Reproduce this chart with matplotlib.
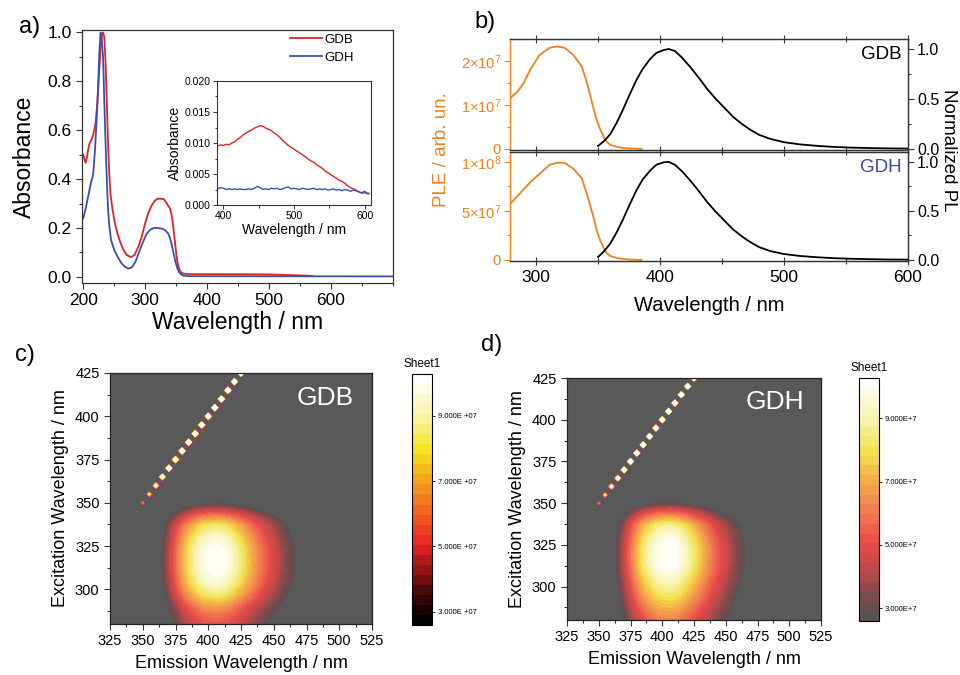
import numpy as np
import matplotlib
matplotlib.use('Agg')
import matplotlib.pyplot as plt
from matplotlib.colors import LinearSegmentedColormap, BoundaryNorm
from matplotlib.ticker import MultipleLocator, FixedLocator, FuncFormatter
import matplotlib.cm as cm

plt.rcParams['font.family'] = ['Liberation Sans', 'DejaVu Sans']
plt.rcParams['mathtext.fontset'] = 'custom'
plt.rcParams['mathtext.rm'] = 'Liberation Sans'
plt.rcParams['mathtext.it'] = 'Liberation Sans:italic'
plt.rcParams['mathtext.bf'] = 'Liberation Sans:bold'

# ---------------- absorption spectra (panel a) ----------------
abs_gdb_wl = [200, 202, 204, 206, 208, 210, 213, 216, 220, 223, 226, 228, 230, 232, 234,
              236, 238, 240, 242, 244, 247, 251, 255, 260, 265, 270, 277, 283, 290, 295,
              300, 305, 310, 315, 320, 325, 330, 335, 340, 343, 346, 349, 352, 355, 358,
              362, 370, 380, 400, 450, 500, 530, 570]
abs_gdb = [0.50, 0.48, 0.467, 0.49, 0.52, 0.545, 0.56, 0.58, 0.63, 0.72, 0.85, 0.93, 0.99,
           1.00, 0.98, 0.88, 0.72, 0.55, 0.42, 0.34, 0.28, 0.22, 0.18, 0.14, 0.11, 0.09,
           0.081, 0.09, 0.13, 0.17, 0.22, 0.26, 0.29, 0.31, 0.32, 0.32, 0.318, 0.30, 0.28,
           0.25, 0.19, 0.12, 0.06, 0.03, 0.018, 0.013, 0.012, 0.011, 0.011, 0.011, 0.010,
           0.008, 0.004]

abs_gdh_wl = [200, 204, 208, 212, 216, 219, 222, 224, 226, 228, 230, 232, 234, 236, 238,
              240, 242, 245, 250, 256, 262, 268, 273, 278, 284, 290, 296, 302, 308, 314,
              320, 326, 332, 337, 340, 343, 346, 349, 352, 355, 358, 362, 370, 700]
abs_gdh = [0.24, 0.28, 0.33, 0.38, 0.42, 0.52, 0.66, 0.78, 0.92, 1.00, 0.97, 0.90, 0.72,
           0.55, 0.40, 0.28, 0.21, 0.15, 0.11, 0.08, 0.055, 0.04, 0.034, 0.038, 0.06, 0.10,
           0.14, 0.175, 0.193, 0.20, 0.20, 0.198, 0.192, 0.178, 0.16, 0.13, 0.095, 0.06,
           0.035, 0.018, 0.01, 0.005, 0.003, 0.002]

# inset: weak visible-range absorption
inset_wl = [392, 396, 400, 404, 408, 412, 416, 420, 424, 428, 432, 436, 440, 444, 448, 452,
            456, 460, 464, 468, 472, 476, 480, 484, 488, 492, 496, 500, 504, 508, 512, 516,
            520, 524, 528, 532, 536, 540, 544, 548, 552, 556, 560, 564, 568, 572, 576, 580,
            584, 588, 592, 596, 600, 604, 606]
inset_gdb = [.0095, .0097, .0096, .0098, .0097, .0100, .0102, .0106, .0109, .0113, .0116,
             .0119, .0121, .0124, .0126, .0128, .0127, .0124, .0122, .0120, .0116, .0113,
             .0109, .0104, .0100, .0096, .0093, .0090, .0087, .0084, .0081, .0078, .0074,
             .0071, .0069, .0065, .0062, .0059, .0055, .0052, .0049, .0046, .0043, .0040,
             .0038, .0035, .0031, .0028, .0026, .0024, .0021, .0019, .0020, .0018, .0019]
inset_gdh = [.0026, .0028, .0027, .0025, .0026, .0025, .0026, .0025, .0026, .0025, .0025,
             .0026, .0025, .0027, .0030, .0028, .0025, .0026, .0025, .0027, .0026, .0027,
             .0025, .0026, .0028, .0029, .0026, .0027, .0026, .0025, .0027, .0026, .0025,
             .0026, .0027, .0025, .0026, .0025, .0026, .0024, .0025, .0026, .0024, .0025,
             .0023, .0025, .0024, .0022, .0024, .0023, .0021, .0020, .0022, .0019, .0018]

# ---------------- PLE / PL spectra (panel b) ----------------
ple_wl = [279, 285, 290, 296, 303, 311, 317, 323, 330, 337, 342, 346, 349, 352, 355, 357,
          360, 365, 370, 376, 385]
ple_gdb = [1.15e7, 1.30e7, 1.50e7, 1.84e7, 2.14e7, 2.30e7, 2.33e7, 2.30e7, 2.14e7, 1.87e7,
           1.41e7, 0.96e7, 0.65e7, 0.43e7, 0.25e7, 0.16e7, 0.09e7, 0.05e7, 0.02e7, 0.01e7, 0.0]
ple_gdh = [0.57e8, 0.65e8, 0.72e8, 0.80e8, 0.88e8, 0.97e8, 0.99e8, 0.99e8, 0.93e8, 0.83e8,
           0.63e8, 0.45e8, 0.30e8, 0.19e8, 0.11e8, 0.07e8, 0.04e8, 0.02e8, 0.01e8, 0.004e8, 0.0]

pl_wl = [350, 355, 360, 365, 370, 375, 381, 386, 392, 397, 403, 407, 412, 418, 425, 432,
         438, 445, 452, 459, 466, 473, 480, 489, 500, 513, 527, 540, 554, 570, 585, 600]
pl_gdb = [0.03, 0.08, 0.15, 0.26, 0.39, 0.53, 0.69, 0.80, 0.90, 0.96, 0.99, 1.00, 0.98,
          0.91, 0.81, 0.70, 0.60, 0.50, 0.41, 0.32, 0.25, 0.19, 0.14, 0.10, 0.067, 0.045,
          0.03, 0.02, 0.013, 0.008, 0.005, 0.003]
pl_gdh = [0.03, 0.09, 0.17, 0.28, 0.41, 0.55, 0.71, 0.82, 0.91, 0.97, 0.995, 1.00, 0.97,
          0.90, 0.80, 0.69, 0.59, 0.49, 0.40, 0.31, 0.24, 0.18, 0.13, 0.09, 0.06, 0.04,
          0.027, 0.018, 0.012, 0.007, 0.004, 0.003]

# ---------------- excitation-emission maps (panels c, d) ----------------
map_peak_gdb = 1.04e8
map_peak_gdh = 1.04e8
rayleigh_wl = [345, 350, 355, 360, 365, 370, 375, 380, 385, 390, 395, 400, 405, 410, 415, 420, 425]
rayleigh_gdb = [4.2e7, 6.0e7, 9.0e7, 1.3e8, 1.6e8, 1.9e8, 2.0e8, 2.0e8, 2.0e8, 2.0e8, 2.0e8,
                2.0e8, 2.0e8, 2.0e8, 2.0e8, 2.0e8, 2.0e8]
rayleigh_gdh = [4.0e7, 5.8e7, 8.8e7, 1.25e8, 1.55e8, 1.85e8, 2.0e8, 2.0e8, 2.0e8, 2.0e8, 2.0e8,
                2.0e8, 2.0e8, 2.0e8, 2.0e8, 2.0e8, 2.0e8]
cbar_ticks = [3e7, 5e7, 7e7, 9e7]

RED = '#DD2424'
BLUE = '#3A50B0'
ORANGE = '#F0821E'
FRAME = '#333333'

W, H = 960, 675
fig = plt.figure(figsize=(9.6, 6.75), dpi=100)


def box(l, t, r, b):
    return [l / W, 1 - b / H, (r - l) / W, (b - t) / H]


def style_spines(ax, color=FRAME, lw=0.9):
    for s in ax.spines.values():
        s.set_color(color)
        s.set_linewidth(lw)


# ======================= panel a =======================
ax = fig.add_axes(box(82, 30, 393, 283))
ax.plot(abs_gdb_wl, abs_gdb, color=RED, lw=1.3, label='GDB')
ax.plot(abs_gdh_wl, abs_gdh, color=BLUE, lw=1.3, label='GDH')
ax.set_xlim(198, 700)
ax.set_ylim(-0.025, 1.01)
ax.xaxis.set_major_locator(FixedLocator([200, 300, 400, 500, 600]))
ax.xaxis.set_minor_locator(MultipleLocator(50))
ax.yaxis.set_major_locator(MultipleLocator(0.2))
ax.yaxis.set_minor_locator(MultipleLocator(0.1))
ax.yaxis.set_major_formatter(FuncFormatter(lambda v, p: f'{v:.1f}'))
ax.tick_params(which='both', direction='out', color=FRAME, labelsize=12.5, width=0.8)
ax.tick_params(which='major', length=4)
ax.tick_params(which='minor', length=2.5)
ax.set_xlabel('Wavelength / nm', fontsize=16.5, labelpad=2)
ax.set_ylabel('Absorbance', fontsize=16.5, labelpad=8)
style_spines(ax)
ax.legend(loc='upper left', bbox_to_anchor=(0.67, 0.985), frameon=False, fontsize=9.5,
          handlelength=2.4, handletextpad=0.15, labelspacing=0.4, borderaxespad=0,
          borderpad=0)
fig.text(30 / W, 1 - 27 / H, 'a)', fontsize=17, ha='center', va='center')

# inset
axi = fig.add_axes(box(217, 81, 371, 205))
axi.plot(inset_wl, inset_gdb, color=RED, lw=1.0)
axi.plot(inset_wl, inset_gdh, color=BLUE, lw=1.0)
axi.set_xlim(391, 609)
axi.set_ylim(0, 0.02)
axi.xaxis.set_major_locator(MultipleLocator(100))
axi.xaxis.set_minor_locator(MultipleLocator(50))
axi.yaxis.set_major_locator(MultipleLocator(0.005))
axi.yaxis.set_minor_locator(MultipleLocator(0.0025))
axi.yaxis.set_major_formatter(FuncFormatter(lambda v, p: f'{v:.3f}'))
axi.tick_params(which='both', direction='out', color=FRAME, labelsize=7.5, width=0.7, pad=1.5)
axi.tick_params(which='major', length=3)
axi.tick_params(which='minor', length=1.8)
axi.set_xlabel('Wavelength / nm', fontsize=10, labelpad=1)
axi.set_ylabel('Absorbance', fontsize=10, labelpad=2)
style_spines(axi, lw=0.8)


# ======================= panel b =======================
def ple_panel(rect, ple, pl, ymax_left, major_left, minor_left, labels_left, name, name_color,
              bottom):
    axl = fig.add_axes(rect)
    axl.plot(ple_wl, ple, color=ORANGE, lw=1.3)
    axl.set_xlim(279, 600)
    axl.set_ylim(-ymax_left * 0.01, ymax_left)
    axl.xaxis.set_major_locator(MultipleLocator(100))
    axl.xaxis.set_minor_locator(MultipleLocator(50))
    axl.yaxis.set_major_locator(FixedLocator(major_left))
    axl.yaxis.set_minor_locator(FixedLocator(minor_left))
    axl.set_yticklabels(labels_left)
    axl.tick_params(axis='y', which='both', direction='out', colors=ORANGE, labelsize=10.5,
                    width=0.8, pad=2.5)
    axl.tick_params(axis='y', which='major', length=4)
    axl.tick_params(axis='y', which='minor', length=2.5)
    axl.tick_params(axis='x', which='both', top=True, direction='inout', color=FRAME,
                    labelsize=12.5, width=0.8, labelbottom=bottom)
    axl.tick_params(axis='x', which='major', length=6)
    axl.tick_params(axis='x', which='minor', length=4)
    axr = axl.twinx()
    axr.plot(pl_wl, pl, color='black', lw=1.3)
    axr.set_ylim(-0.011, 1.1)
    axr.yaxis.set_major_locator(MultipleLocator(0.5))
    axr.yaxis.set_minor_locator(MultipleLocator(0.25))
    axr.yaxis.set_major_formatter(FuncFormatter(lambda v, p: f'{v:.1f}'))
    axr.tick_params(which='both', direction='out', color=FRAME, labelsize=11.5, width=0.8,
                    pad=2.5)
    axr.tick_params(which='major', length=4)
    axr.tick_params(which='minor', length=2.5)
    for a in (axl, axr):
        style_spines(a)
        a.spines['left'].set_color(ORANGE)
    axr.text(0.985, 0.86, name, transform=axr.transAxes, ha='right', va='center',
             fontsize=13.5, color=name_color)
    return axl, axr


bl_top, _ = ple_panel(box(510, 39, 908, 150), ple_gdb, pl_gdb, 2.5e7,
                      [0, 1e7, 2e7], [0.5e7, 1.5e7],
                      ['0', '1×10$^7$', '2×10$^7$'], 'GDB', 'black', False)
bl_bot, _ = ple_panel(box(510, 152, 908, 261), ple_gdh, pl_gdh, 1.1e8,
                      [0, 5e7, 1e8], [2.5e7, 7.5e7],
                      ['0', '5×10$^7$', '1×10$^8$'], 'GDH', '#3A4AB0', True)
bl_bot.set_xlabel('Wavelength / nm', fontsize=14.5, labelpad=8)
fig.text(442 / W, 1 - 150 / H, 'PLE / arb. un.', rotation=90, fontsize=13.5, color=ORANGE,
         ha='center', va='center')
fig.text(948 / W, 1 - 150 / H, 'Normalized PL', rotation=270, fontsize=13.5, color='black',
         ha='center', va='center')
fig.text(485 / W, 1 - 22 / H, 'b)', fontsize=17, ha='center', va='center')

# ======================= panels c, d =======================
em_grid = np.arange(325, 525.01, 0.25)
ex_grid = np.arange(280, 425.01, 0.25)
EM, EX = np.meshgrid(em_grid, ex_grid)
levels = np.linspace(2.6e7, 10.27e7, 26)
RAY_HALF_EM, RAY_HALF_EX = 3.5, 2.7


def ee_map(ple, pl, peak, ray):
    ple_n = np.asarray(ple) / max(ple)
    pl_n = np.asarray(pl) / max(pl)
    ex_prof = np.interp(ex_grid, ple_wl, ple_n, left=ple_n[0], right=0.0)
    em_prof = np.interp(em_grid, pl_wl, pl_n, left=0.0, right=pl_n[-1])
    Z = peak * np.outer(ex_prof, em_prof)
    for w, c in zip(rayleigh_wl, ray):
        d = np.abs(EM - w) / RAY_HALF_EM + np.abs(EX - w) / RAY_HALF_EX
        Z = Z + c * np.clip(1 - d, 0, None)
    return np.minimum(Z, levels[-1] * 0.999)


cmap_map = LinearSegmentedColormap.from_list('ee_gray', [
    (0.00, '#5a5252'), (0.08, '#7a4a4a'), (0.18, '#b84848'), (0.31, '#e84a4a'),
    (0.44, '#f07a50'), (0.57, '#f5a848'), (0.70, '#f3e04c'), (0.83, '#f7f2a8'),
    (1.00, '#ffffff')])
cmap_black = LinearSegmentedColormap.from_list('ee_black', [
    (0.00, '#000000'), (0.10, '#3a0808'), (0.18, '#7a1010'), (0.31, '#e82222'),
    (0.44, '#f06020'), (0.57, '#f5a01c'), (0.70, '#f5e41c'), (0.83, '#f8f2a0'),
    (1.00, '#ffffff')])


def map_panel(rect, crect, Z, name, bar_cmap, tick_fmt):
    axm = fig.add_axes(rect)
    axm.set_facecolor('#595959')
    axm.contourf(EM, EX, Z, levels=levels, cmap=cmap_map)
    axm.set_xlim(325, 525)
    axm.set_ylim(280, 425)
    axm.xaxis.set_major_locator(MultipleLocator(25))
    axm.xaxis.set_minor_locator(MultipleLocator(12.5))
    axm.yaxis.set_major_locator(MultipleLocator(25))
    axm.yaxis.set_minor_locator(MultipleLocator(12.5))
    axm.tick_params(which='both', direction='out', labelsize=10.5, width=0.8, color=FRAME)
    axm.tick_params(which='major', length=4)
    axm.tick_params(which='minor', length=2.5)
    axm.set_xlabel('Emission Wavelength / nm', fontsize=13, labelpad=5)
    axm.set_ylabel('Excitation Wavelength / nm', fontsize=13, labelpad=4)
    style_spines(axm, color='#222222')
    axm.text(0.82, 0.9, name, transform=axm.transAxes, ha='center', va='center',
             fontsize=19, color='white')
    cax = fig.add_axes(crect)
    sm = cm.ScalarMappable(norm=BoundaryNorm(levels, 256), cmap=bar_cmap)
    cb = fig.colorbar(sm, cax=cax, ticks=cbar_ticks)
    cb.ax.yaxis.set_major_formatter(FuncFormatter(tick_fmt))
    cb.ax.tick_params(labelsize=5.5, length=2.5, width=0.6, pad=1.5)
    cb.ax.minorticks_off()
    cb.outline.set_linewidth(0.8)
    cax.set_title('Sheet1', fontsize=8.5, pad=5)
    return axm


Zc = ee_map(ple_gdb, pl_gdb, map_peak_gdb, rayleigh_gdb)
Zd = ee_map(ple_gdh, pl_gdh, map_peak_gdh, rayleigh_gdh)
map_panel(box(110, 373, 372, 624), box(412, 374, 432, 625), Zc, 'GDB', cmap_black,
          lambda v, p: f'{v / 1e7:.3f}E +07')
map_panel(box(567, 378, 821, 620), box(859, 378, 879, 621), Zd, 'GDH', cmap_map,
          lambda v, p: f'{v / 1e7:.3f}E+7')
fig.text(25 / W, 1 - 355 / H, 'c)', fontsize=17, ha='center', va='center')
fig.text(492 / W, 1 - 345 / H, 'd)', fontsize=17, ha='center', va='center')

fig.savefig('out.png', dpi=100)
